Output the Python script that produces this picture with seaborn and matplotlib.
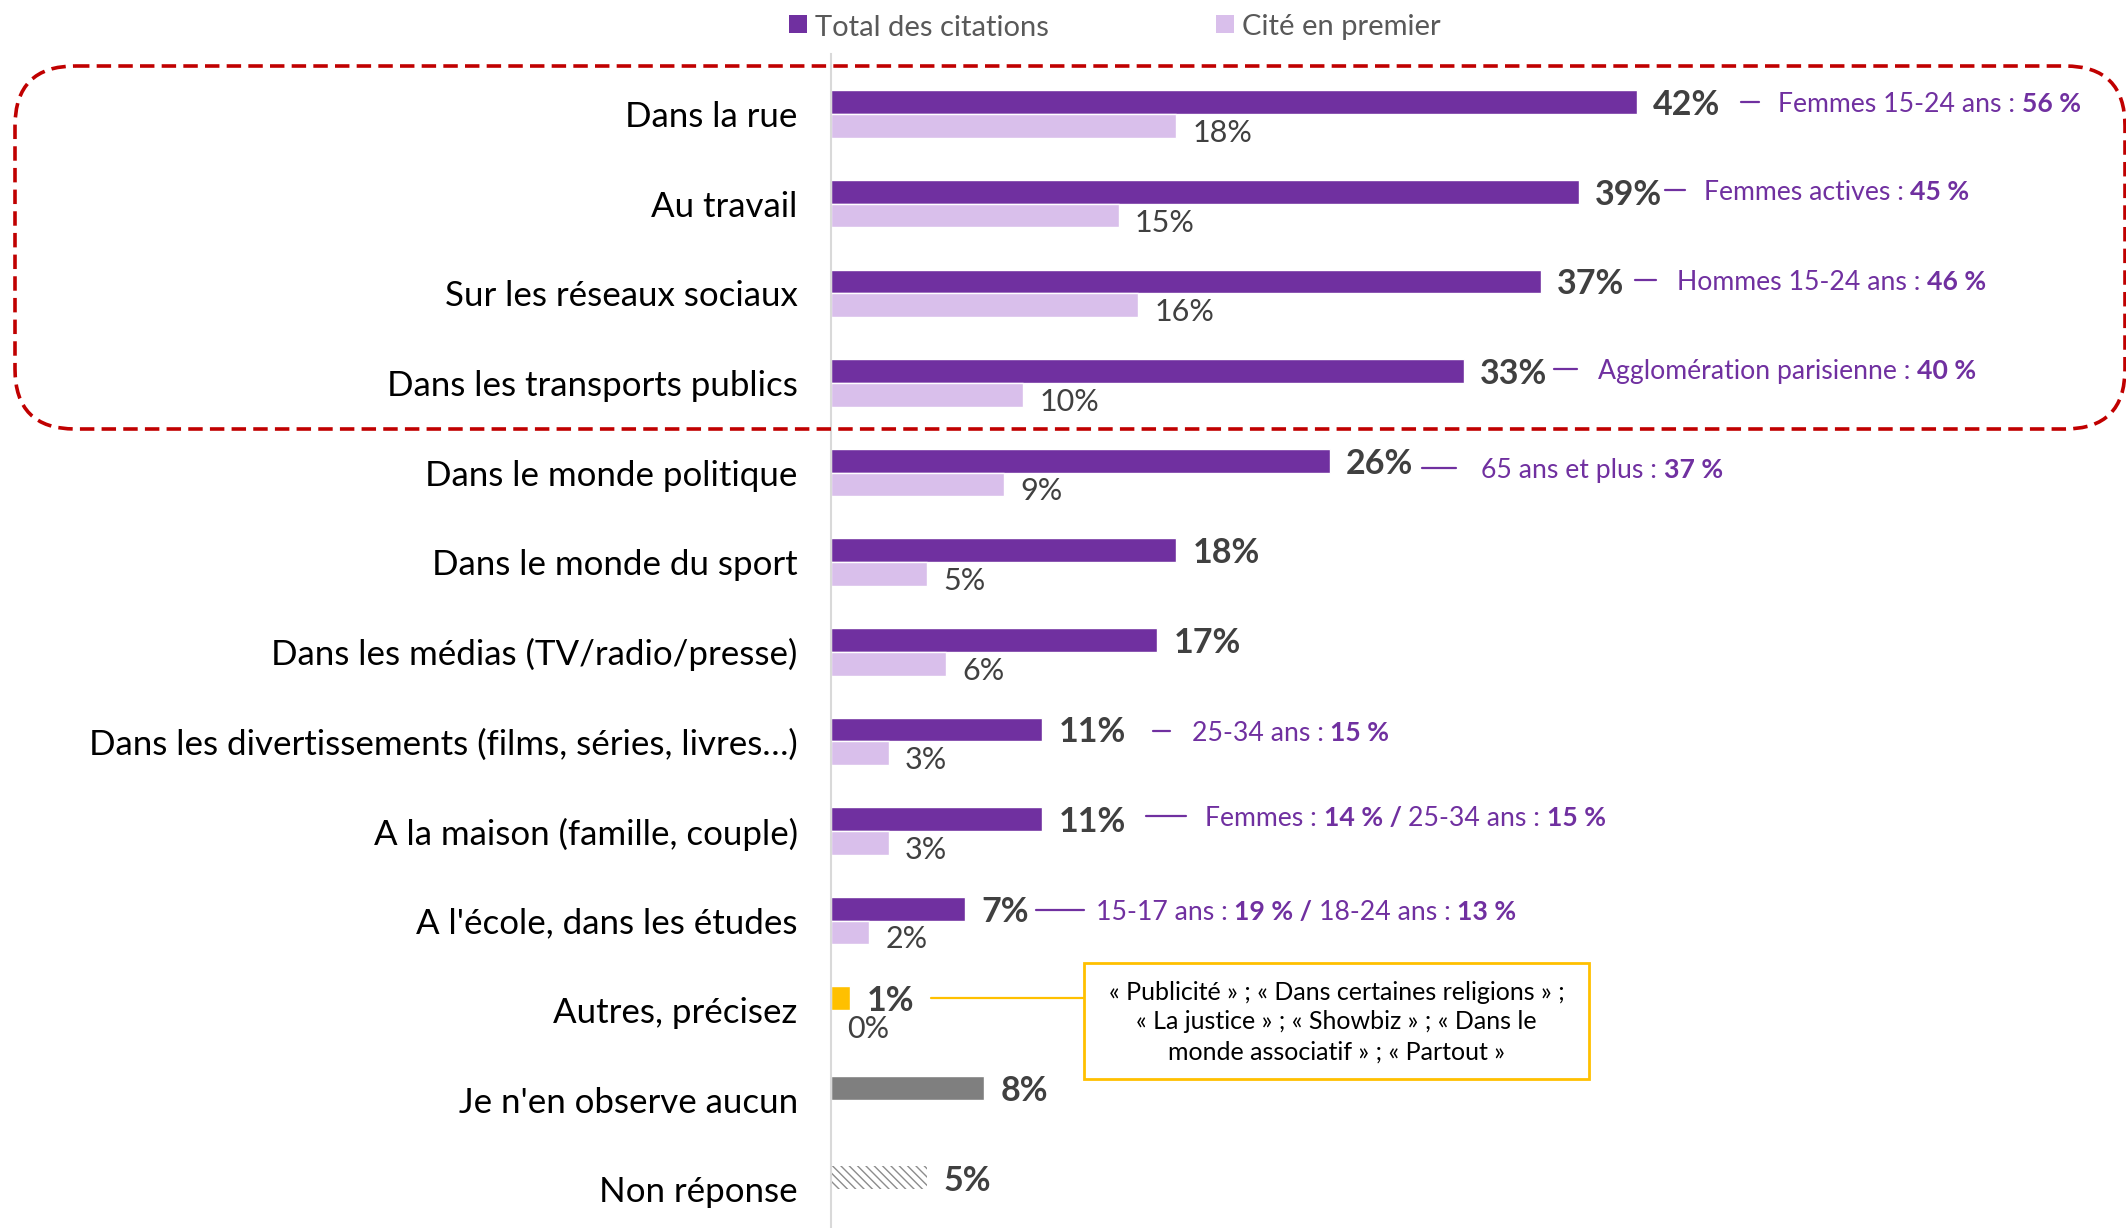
import numpy as np
import pandas as pd
import matplotlib
matplotlib.use("Agg")
import matplotlib.pyplot as plt
import seaborn as sns
from matplotlib.patches import FancyBboxPatch, Rectangle

# ---------------- data ----------------
categories = [
    "Dans la rue",
    "Au travail",
    "Sur les réseaux sociaux",
    "Dans les transports publics",
    "Dans le monde politique",
    "Dans le monde du sport",
    "Dans les médias (TV/radio/presse)",
    "Dans les divertissements (films, séries, livres…)",
    "A la maison (famille, couple)",
    "A l'école, dans les études",
    "Autres, précisez",
    "Je n'en observe aucun",
    "Non réponse",
]
total_values = [42, 39, 37, 33, 26, 18, 17, 11, 11, 7, 1, 8, 5]
premier_values = [18, 15, 16, 10, 9, 5, 6, 3, 3, 2, 0, None, None]
series_names = ["Total des citations", "Cité en premier"]

annotation_rows = [0, 1, 2, 3, 4, 7, 8, 9]
annotation_texts = [
    [("Femmes 15-24 ans : ", False), ("56 %", True)],
    [("Femmes actives : ", False), ("45 %", True)],
    [("Hommes 15-24 ans : ", False), ("46 %", True)],
    [("Agglomération parisienne : ", False), ("40 %", True)],
    [("65 ans et plus : ", False), ("37 %", True)],
    [("25-34 ans : ", False), ("15 %", True)],
    [("Femmes : ", False), ("14 % / ", True), ("25-34 ans : ", False), ("15 %", True)],
    [("15-17 ans : ", False), ("19 % / ", True), ("18-24 ans : ", False), ("13 %", True)],
]
autres_text = ("« Publicité » ; « Dans certaines religions » ;\n"
               "« La justice » ; « Showbiz » ; « Dans le\n"
               "monde associatif » ; « Partout »")

# ---------------- layout / style ----------------
PURPLE = "#7030A0"
LIGHT = "#D9BFEB"
YELLOW = "#FFC000"
GREY = "#7F7F7F"
DARK = "#404040"
RED = "#C00000"

# dash start, dash end, text start (in % units), vertical offset (row units)
annotation_layout = [
    (47.45, 48.4, 49.4, -0.13),
    (43.5, 44.5, 45.5, -0.15),
    (41.9, 43.0, 44.1, -0.15),
    (37.7, 38.9, 40.0, -0.15),
    (30.8, 32.6, 33.9, -0.05),
    (16.8, 17.7, 18.8, -0.12),
    (16.4, 18.5, 19.5, -0.17),
    (10.7, 13.2, 13.8, -0.12),
]

sns.set_style("white")
FONT = ["Lato", "DejaVu Sans"]
plt.rcParams["font.family"] = FONT
plt.rcParams["hatch.linewidth"] = 1.0

W, H = 2126, 1228
fig = plt.figure(figsize=(W / 100, H / 100), dpi=100)
ax = fig.add_axes([831 / W, 0.0, (W - 831) / W, 1 - 54 / H])

rows = []
for c, t, p in zip(categories, total_values, premier_values):
    rows.append({"cat": c, "serie": series_names[0], "value": t})
    if p is not None:
        rows.append({"cat": c, "serie": series_names[1], "value": p})
df = pd.DataFrame(rows)

sns.barplot(data=df, y="cat", x="value", hue="serie", order=categories,
            hue_order=series_names, palette=[PURPLE, LIGHT], width=0.53,
            orient="h", saturation=1, legend=False, ax=ax, errorbar=None)

ax.set_xlim(0, (W - 831) / 19.18)
ax.set_ylim(12.43, -0.67)
ax.set_xlabel("")
ax.set_ylabel("")
ax.xaxis.set_visible(False)
for s in ["top", "right", "bottom"]:
    ax.spines[s].set_visible(False)
ax.spines["left"].set_color("#D9D9D9")
ax.spines["left"].set_linewidth(1.5)
ax.tick_params(axis="y", length=0, pad=24, labelsize=25.1, labelcolor="#000000")

# recolor special bars & add value labels
for p in ax.patches:
    h = p.get_height()
    if not np.isfinite(p.get_width()):
        continue
    yc = p.get_y() + h / 2
    row = int(round(yc))
    is_total = yc < row
    w = p.get_width()
    if is_total:
        if row == 10:
            p.set_facecolor(YELLOW)
        elif row == 11:
            p.set_facecolor(GREY)
        elif row == 12:
            p.set_facecolor("white")
            p.set_edgecolor("#8C8C8C")
            p.set_hatch("\\\\\\\\")
            p.set_linewidth(0)
        ax.text(w + 0.85, yc, f"{w:.0f}%", ha="left", va="center_baseline",
                fontsize=24.5, fontweight="bold", color=DARK)
    else:
        ax.text(w + 0.85, yc + 0.05, f"{w:.0f}%", ha="left", va="center_baseline",
                fontsize=22, color=DARK)

# rich purple annotations
fig.canvas.draw()
renderer = fig.canvas.get_renderer()
px_per_unit = ax.get_window_extent().width / (ax.get_xlim()[1] - ax.get_xlim()[0])


def text_width(s, **kw):
    t1 = fig.text(0, 0, s + "|", **kw)
    t2 = fig.text(0, 0, "|", **kw)
    w = t1.get_window_extent(renderer).width - t2.get_window_extent(renderer).width
    t1.remove()
    t2.remove()
    return w


for row, parts, (d0, d1, tx, dy) in zip(annotation_rows, annotation_texts, annotation_layout):
    y = row + dy
    ax.plot([d0, d1], [y, y], color=PURPLE, lw=1.6, clip_on=False)
    x = tx
    for s, bold in parts:
        kw = dict(fontsize=19.2, color=PURPLE, fontweight="bold" if bold else "normal")
        ax.text(x, y, s, ha="left", va="center_baseline", clip_on=False, **kw)
        x += text_width(s, **kw) / px_per_unit

# "Autres" comment box
ax.plot([5.2, 13.2], [10 - 0.14, 10 - 0.14], color=YELLOW, lw=1.6, clip_on=False)
ax.add_patch(Rectangle((13.2, 9.47), 26.3, 1.3, facecolor="white", edgecolor=YELLOW,
                       lw=2, clip_on=False, zorder=3))
ax.text(26.35, 10.13, autres_text, ha="center", va="center", fontsize=18,
        linespacing=1.36, color="#000000", zorder=4)

# overlay in pixel coordinates: legend + red dashed frame
ov = fig.add_axes([0, 0, 1, 1])
ov.set_xlim(0, W)
ov.set_ylim(H, 0)
ov.axis("off")
ov.patch.set_alpha(0)

ov.add_patch(Rectangle((789, 15), 18, 18, facecolor=PURPLE, edgecolor="none"))
ov.text(815, 25, series_names[0], ha="left", va="center_baseline", fontsize=21, color="#595959")
ov.add_patch(Rectangle((1216, 15), 18, 18, facecolor=LIGHT, edgecolor="none"))
ov.text(1242, 25, series_names[1], ha="left", va="center_baseline", fontsize=21, color="#595959")

ov.add_patch(FancyBboxPatch((15, 66), 2110, 363,
                            boxstyle="round,pad=0,rounding_size=60",
                            facecolor="none", edgecolor=RED, lw=2.6,
                            linestyle=(0, (4, 2))))

fig.savefig("out.png", dpi=100)
